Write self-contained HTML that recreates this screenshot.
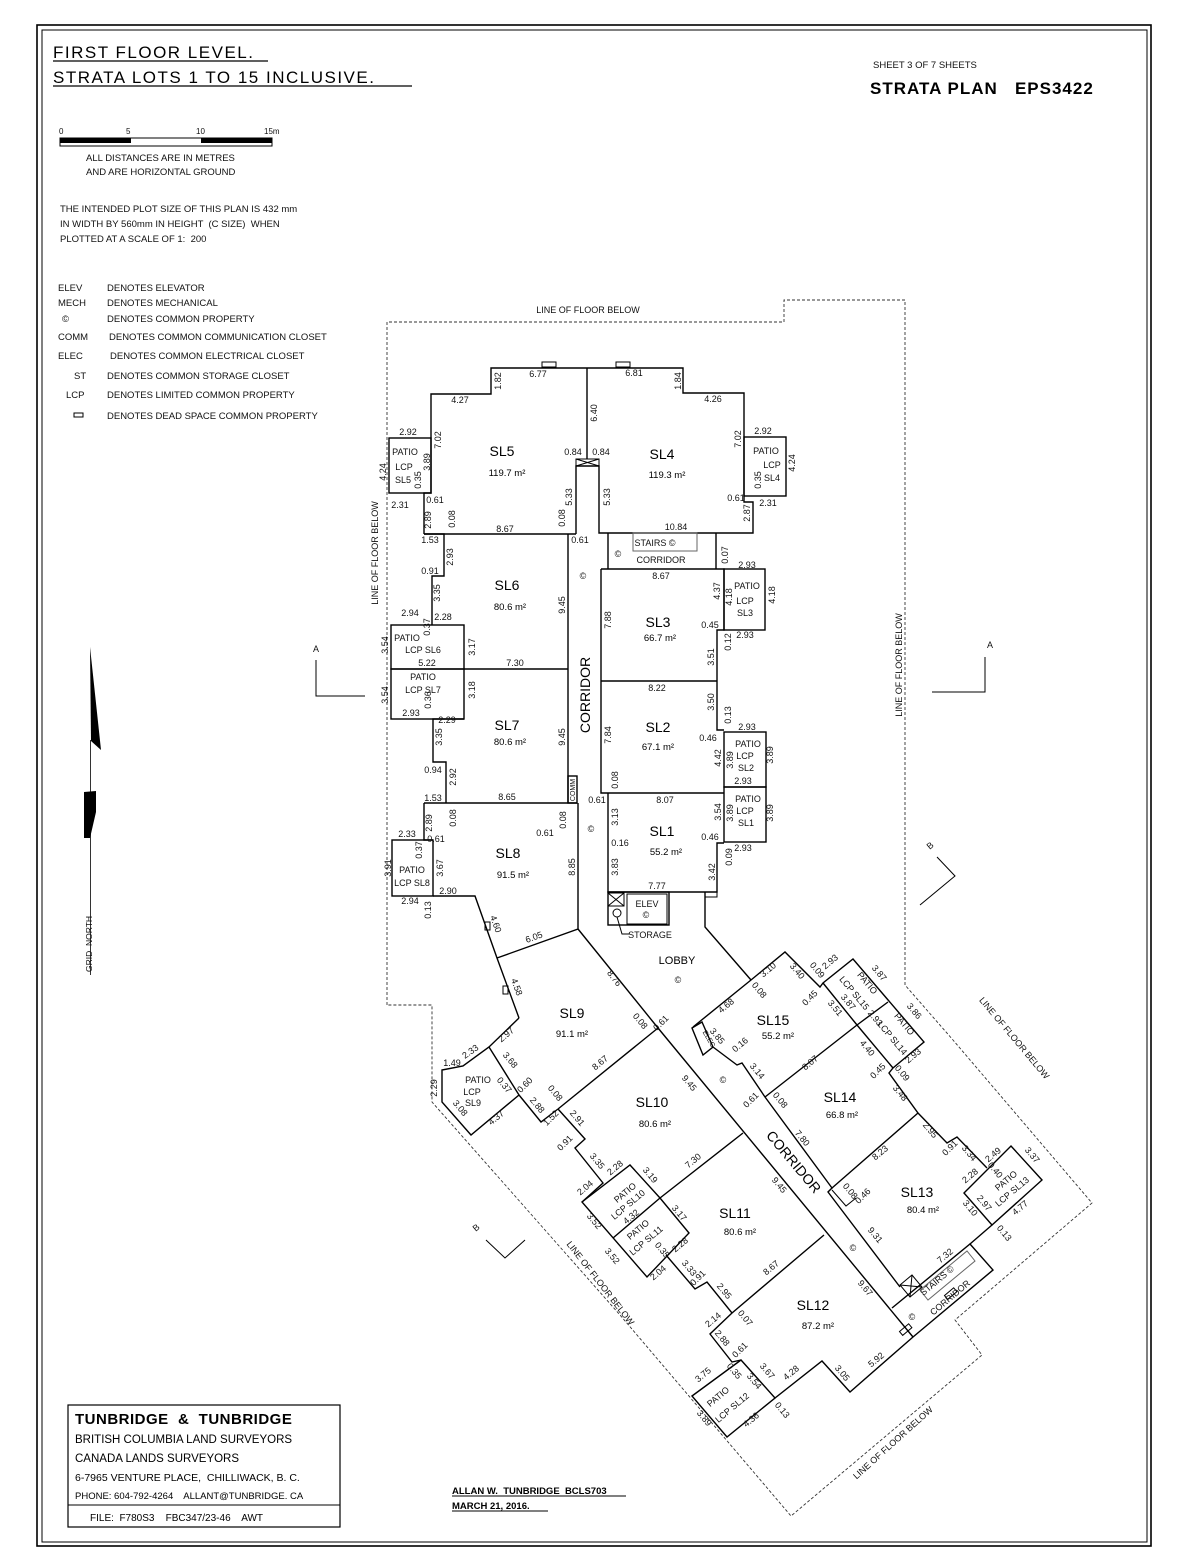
<!DOCTYPE html>
<html><head><meta charset="utf-8">
<style>
html,body{margin:0;padding:0;background:#fff;}
svg{display:block;font-family:"Liberation Sans",sans-serif;}
svg text{white-space:pre;}
.w{fill:none;stroke:#000;stroke-width:1.4;}
.t{fill:none;stroke:#000;stroke-width:1;}
.d{fill:none;stroke:#333;stroke-width:0.9;stroke-dasharray:3,2;}
.s{font-size:9px;fill:#111;text-anchor:middle;}
.L{font-size:14px;fill:#000;text-anchor:middle;}
.A{font-size:9.5px;fill:#000;text-anchor:middle;}
.g{font-size:9.5px;fill:#111;}
</style></head><body>
<svg width="1188" height="1568" viewBox="0 0 1188 1568" xmlns="http://www.w3.org/2000/svg">
<rect x="0" y="0" width="1188" height="1568" fill="#fff"/>
<rect x="37" y="25" width="1114" height="1521" fill="none" stroke="#000" stroke-width="1.6"/>
<rect x="42" y="30" width="1105" height="1512" fill="none" stroke="#000" stroke-width="1"/>

<!-- Titles -->
<text x="53" y="58" style="font-size:17px;letter-spacing:1.5px">FIRST FLOOR LEVEL.</text>
<line x1="53" y1="61" x2="268" y2="61" stroke="#000" stroke-width="1.3"/>
<text x="53" y="83" style="font-size:17px;letter-spacing:1.5px">STRATA LOTS 1 TO 15 INCLUSIVE.</text>
<line x1="53" y1="86" x2="412" y2="86" stroke="#000" stroke-width="1.3"/>
<text x="873" y="68" class="g">SHEET 3 OF 7 SHEETS</text>
<text x="870" y="94" style="font-size:17px;font-weight:bold;letter-spacing:1px">STRATA PLAN   EPS3422</text>

<!-- scale -->
<text x="59" y="134" class="g" style="font-size:8px">0</text>
<text x="126" y="134" class="g" style="font-size:8px">5</text>
<text x="196" y="134" class="g" style="font-size:8px">10</text>
<text x="264" y="134" class="g" style="font-size:8px">15m</text>
<rect x="60" y="138" width="212" height="8" fill="#fff" stroke="#000"/>
<rect x="60" y="138" width="71" height="5" fill="#000"/>
<rect x="201" y="138" width="71" height="5" fill="#000"/>
<text x="86" y="161" class="g">ALL DISTANCES ARE IN METRES</text>
<text x="86" y="175" class="g">AND ARE HORIZONTAL GROUND</text>
<text x="60" y="212" class="g">THE INTENDED PLOT SIZE OF THIS PLAN IS 432 mm</text>
<text x="60" y="227" class="g">IN WIDTH BY 560mm IN HEIGHT  (C SIZE)  WHEN</text>
<text x="60" y="242" class="g">PLOTTED AT A SCALE OF 1:  200</text>

<!-- legend -->
<g class="g">
<text x="58" y="291">ELEV</text><text x="107" y="291">DENOTES ELEVATOR</text>
<text x="58" y="306">MECH</text><text x="107" y="306">DENOTES MECHANICAL</text>
<text x="62" y="322">©</text><text x="107" y="322">DENOTES COMMON PROPERTY</text>
<text x="58" y="340">COMM</text><text x="109" y="340">DENOTES COMMON COMMUNICATION CLOSET</text>
<text x="58" y="359">ELEC</text><text x="110" y="359">DENOTES COMMON ELECTRICAL CLOSET</text>
<text x="74" y="379">ST</text><text x="107" y="379">DENOTES COMMON STORAGE CLOSET</text>
<text x="66" y="398">LCP</text><text x="107" y="398">DENOTES LIMITED COMMON PROPERTY</text>
<text x="107" y="419">DENOTES DEAD SPACE COMMON PROPERTY</text>
</g>
<rect x="74" y="413" width="9" height="4" fill="none" stroke="#000"/>

<!-- north arrow -->
<polygon points="90,647 101,750 91,741" fill="#000"/>
<line x1="90.5" y1="740" x2="90.5" y2="975" stroke="#333" stroke-width="1"/>
<polygon points="84,792 96,791 96,812 90,838 84,838 84,815" fill="#000"/>
<text transform="translate(92,972) rotate(-90)" class="g" style="font-size:8.5px">GRID  NORTH</text>

<!-- Line of floor below (dashed) -->
<path class="d" d="M387,1005 V322 H784 V300 H905 V985 L953,1040 L1092,1203 L955,1320 L982,1355 L791,1516 L620,1315 L432,1102 V1005 Z"/>
<text x="588" y="313" class="s">LINE OF FLOOR BELOW</text>
<text transform="translate(378,553) rotate(-90)" class="s">LINE OF FLOOR BELOW</text>
<text transform="translate(902,665) rotate(-90)" class="s">LINE OF FLOOR BELOW</text>
<text transform="translate(1012,1040) rotate(50)" class="s">LINE OF FLOOR BELOW</text>
<text transform="translate(598,1285) rotate(52)" class="s">LINE OF FLOOR BELOW</text>
<text transform="translate(895,1445) rotate(-42)" class="s">LINE OF FLOOR BELOW</text>

<!-- section markers -->
<text x="316" y="652" class="s">A</text>
<path class="t" d="M316,660 V696 H365"/>
<text x="990" y="648" class="s">A</text>
<path class="t" d="M985,657 V692 H932"/>
<text transform="translate(932,848) rotate(-40)" class="s">B</text>
<path class="t" d="M937,857 L955,876 L920,905"/>
<text transform="translate(478,1230) rotate(-40)" class="s">B</text>
<path class="t" d="M486,1240 L505,1258 L525,1240"/>

<!-- ===== Building upper ===== -->
<path class="w" d="M424,534 V493 H431 V394 H491 V368 H683 V393 H744 V502 H753 V533 H599 V466 H576 V534"/>
<path class="w" d="M587,368 V459"/>
<rect x="576" y="459" width="23" height="7" class="t"/>
<path class="t" d="M576,459 L599,466 M599,459 L576,466"/>
<rect x="542" y="362" width="14" height="5" class="t"/>
<rect x="616" y="362" width="14" height="5" class="t"/>
<rect x="389" y="438" width="42" height="55" class="w"/>
<rect x="744" y="437" width="42" height="59" class="w"/>
<path class="w" d="M424,534 H576 M608,533 V569 M716,533 V569"/>
<rect x="633" y="533" width="64" height="18" fill="none" stroke="#666" stroke-width="1"/>
<path class="w" d="M424,534 H444 V576 H432 V625"/>
<rect x="391" y="625" width="73" height="44" class="w"/>
<rect x="391" y="669" width="73" height="50" class="w"/>
<path class="w" d="M464,669 H568 M568,534 V803"/>
<rect x="568" y="776" width="9" height="27" class="w"/>
<path class="w" d="M464,719 H433 V762 H446 V803 M424,803 H577 M424,803 V840 H433"/>
<rect x="392" y="840" width="41" height="56" class="w"/>
<path class="w" d="M433,896 H475 L497,958 L519,1018 M497,958 L578,929 V803"/>
<!-- right column -->
<path class="w" d="M601,569 H717 M601,569 V793 H608 V892 H717 V843 H724 M717,569 H724 V630 H717 V730 H724 M601,681 H717 M608,793 H724"/>
<rect x="724" y="569" width="41" height="61" class="w"/>
<rect x="724" y="732" width="42" height="55" class="w"/>
<rect x="724" y="787" width="42" height="55" class="w"/>
<rect x="608" y="892" width="61" height="33" class="w"/>
<rect x="627" y="894" width="40" height="30" class="t"/>
<path class="t" d="M608,893 H624 V906 H608 Z M608,893 L624,906 M624,893 L608,906"/>
<circle cx="617" cy="913" r="4" class="t"/>
<path class="t" d="M617,917 L622,934 H630"/>
<path class="w" d="M705,892 V927 L751,980"/>
<rect x="705" y="892" width="12" height="5" class="t"/>

<!-- ===== Diagonal wing ===== -->
<path class="w" d="M578,929 L658,1028 L913,1337"/>
<path class="w" d="M658,1028 L558,1109"/>
<path class="w" d="M519,1018 L489,1047 L463,1066 L442,1070 L442,1102 L471,1135 L519,1095 L489,1047 M519,1095 L541,1122 L558,1109"/>
<path class="w" d="M558,1109 L585,1139 L575,1148 L603,1183 L582,1202"/>
<polygon class="w" points="582,1202 630,1165 660,1198 689,1233 647,1277"/>
<path class="w" d="M660,1198 L613,1238 M660,1198 L743,1133"/>
<path class="w" d="M666,1255 L695,1289 L707,1282 L732,1313 L824,1235 M732,1313 L710,1334 L732,1362 L741,1360"/>
<polygon class="w" points="692,1396 741,1360 775,1398 727,1437"/>
<path class="w" d="M775,1398 L822,1361 L850,1392 L913,1337 L993,1270 L970,1244 L892,1308"/>
<rect x="900" y="1327" width="12" height="5" transform="rotate(-40 906 1330)" class="t"/>
<rect x="945" y="1291" width="12" height="5" transform="rotate(-40 951 1294)" class="t"/>
<rect x="485" y="922" width="5" height="8" class="t"/>
<rect x="503" y="986" width="5" height="8" class="t"/>
<!-- east side -->
<polygon class="w" points="692,1028 702,1022 713,1047 703,1055"/>
<path class="w" d="M693,1027 L751,980 L785,952 L820,987 L823,983 L853,959 L924,1042 L893,1068 L889,1073 L918,1113 L947,1143 L957,1137 L987,1168"/>
<path class="w" d="M713,1047 L737,1065 L742,1063 L765,1097 L832,1188 L828,1192 L900,1287"/>
<path class="w" d="M823,983 L857,1025 L893,1068 M857,1025 L888,1002 M765,1097 L857,1025 M832,1188 L918,1113"/>
<polygon class="w" points="964,1193 1011,1146 1042,1180 992,1225"/>
<path class="w" d="M992,1225 L970,1244"/>
<path class="t" d="M832,1190 L846,1206 L856,1198"/>
<polygon points="900,1285 912,1275 922,1287 910,1297" fill="none" stroke="#000"/>
<path class="t" d="M900,1285 L922,1287 M912,1275 L910,1297"/>
<polygon points="920,1290 967,1251 975,1261 928,1300" fill="none" stroke="#666"/>

<!-- ===== Labels ===== -->
<g class="L">
<text x="502" y="456">SL5</text><text x="662" y="459">SL4</text>
<text x="507" y="590">SL6</text><text x="658" y="627">SL3</text>
<text x="507" y="730">SL7</text><text x="658" y="732">SL2</text>
<text x="508" y="858">SL8</text><text x="662" y="836">SL1</text>
<text x="572" y="1018">SL9</text><text x="652" y="1107">SL10</text>
<text x="735" y="1218">SL11</text><text x="813" y="1310">SL12</text>
<text x="917" y="1197">SL13</text><text x="840" y="1102">SL14</text>
<text x="773" y="1025">SL15</text>
<text transform="translate(590,695) rotate(-90)">CORRIDOR</text>
<text transform="translate(790,1165) rotate(50)">CORRIDOR</text>
<text x="677" y="964" style="font-size:11px">LOBBY</text>
</g>
<g class="A">
<text x="507" y="476">119.7 m²</text><text x="667" y="478">119.3 m²</text>
<text x="510" y="610">80.6 m²</text><text x="660" y="641">66.7 m²</text>
<text x="510" y="745">80.6 m²</text><text x="658" y="750">67.1 m²</text>
<text x="513" y="878">91.5 m²</text><text x="666" y="855">55.2 m²</text>
<text x="572" y="1037">91.1 m²</text><text x="655" y="1127">80.6 m²</text>
<text x="740" y="1235">80.6 m²</text><text x="818" y="1329">87.2 m²</text>
<text x="923" y="1213">80.4 m²</text><text x="842" y="1118">66.8 m²</text>
<text x="778" y="1039">55.2 m²</text>
</g>
<g class="s">
<text x="405" y="455">PATIO</text><text x="404" y="470">LCP</text><text x="403" y="483">SL5</text>
<text x="766" y="454">PATIO</text><text x="772" y="468">LCP</text><text x="772" y="481">SL4</text>
<text x="655" y="546">STAIRS ©</text><text x="661" y="563">CORRIDOR</text>
<text x="618" y="557">©</text><text x="583" y="579">©</text><text x="591" y="832">©</text>
<text x="747" y="589">PATIO</text><text x="745" y="604">LCP</text><text x="745" y="616">SL3</text>
<text x="407" y="641">PATIO</text><text x="423" y="653">LCP SL6</text>
<text x="423" y="680">PATIO</text><text x="423" y="693">LCP SL7</text>
<text x="748" y="747">PATIO</text><text x="745" y="759">LCP</text><text x="746" y="771">SL2</text>
<text x="748" y="802">PATIO</text><text x="745" y="814">LCP</text><text x="746" y="826">SL1</text>
<text x="412" y="873">PATIO</text><text x="412" y="886">LCP SL8</text>
<text x="647" y="907">ELEV</text><text x="646" y="918">©</text>
<text x="650" y="938">STORAGE</text>
<text x="678" y="983">©</text>
<text x="478" y="1083">PATIO</text><text x="472" y="1095">LCP</text><text x="473" y="1106">SL9</text>
<text x="723" y="1083">©</text><text x="853" y="1251">©</text><text x="912" y="1320">©</text>
<text x="538" y="377">6.77</text><text x="634" y="376">6.81</text>
<text x="460" y="403">4.27</text><text x="713" y="402">4.26</text>
<text x="408" y="435">2.92</text><text x="763" y="434">2.92</text>
<text x="573" y="455">0.84</text><text x="601" y="455">0.84</text>
<text x="400" y="508">2.31</text><text x="435" y="503">0.61</text>
<text x="736" y="501">0.61</text><text x="768" y="506">2.31</text>
<text x="505" y="532">8.67</text><text x="676" y="530">10.84</text>
<text x="430" y="543">1.53</text><text x="580" y="543">0.61</text>
<text x="747" y="568">2.93</text><text x="430" y="574">0.91</text>
<text x="661" y="579">8.67</text>
<text x="410" y="616">2.94</text><text x="443" y="620">2.28</text>
<text x="710" y="628">0.45</text><text x="745" y="638">2.93</text>
<text x="427" y="666">5.22</text><text x="515" y="666">7.30</text>
<text x="657" y="691">8.22</text>
<text x="411" y="716">2.93</text><text x="447" y="723">2.29</text>
<text x="747" y="730">2.93</text><text x="708" y="741">0.46</text>
<text x="433" y="773">0.94</text><text x="743" y="784">2.93</text>
<text x="507" y="800">8.65</text><text x="433" y="801">1.53</text>
<text x="597" y="803">0.61</text><text x="665" y="803">8.07</text>
<text x="545" y="836">0.61</text><text x="407" y="837">2.33</text>
<text x="436" y="842">0.61</text><text x="620" y="846">0.16</text>
<text x="710" y="840">0.46</text><text x="743" y="851">2.93</text>
<text x="448" y="894">2.90</text><text x="410" y="904">2.94</text>
<text x="657" y="889">7.77</text>
<text x="452" y="1066">1.49</text>
</g>
<g class="s">
<text transform="translate(501,381) rotate(-90)">1.82</text>
<text transform="translate(681,381) rotate(-90)">1.84</text>
<text transform="translate(597,413) rotate(-90)">6.40</text>
<text transform="translate(441,440) rotate(-90)">7.02</text>
<text transform="translate(741,439) rotate(-90)">7.02</text>
<text transform="translate(430,462) rotate(-90)">3.89</text>
<text transform="translate(421,480) rotate(-90)">0.35</text>
<text transform="translate(386,472) rotate(-90)">4.24</text>
<text transform="translate(761,480) rotate(-90)">0.35</text>
<text transform="translate(795,463) rotate(-90)">4.24</text>
<text transform="translate(572,497) rotate(-90)">5.33</text>
<text transform="translate(610,497) rotate(-90)">5.33</text>
<text transform="translate(431,520) rotate(-90)">2.89</text>
<text transform="translate(455,519) rotate(-90)">0.08</text>
<text transform="translate(565,518) rotate(-90)">0.08</text>
<text transform="translate(750,513) rotate(-90)">2.87</text>
<text transform="translate(453,557) rotate(-90)">2.93</text>
<text transform="translate(728,555) rotate(-90)">0.07</text>
<text transform="translate(440,593) rotate(-90)">3.35</text>
<text transform="translate(565,605) rotate(-90)">9.45</text>
<text transform="translate(720,591) rotate(-90)">4.37</text>
<text transform="translate(732,597) rotate(-90)">4.18</text>
<text transform="translate(775,595) rotate(-90)">4.18</text>
<text transform="translate(611,620) rotate(-90)">7.88</text>
<text transform="translate(430,627) rotate(-90)">0.37</text>
<text transform="translate(388,645) rotate(-90)">3.54</text>
<text transform="translate(475,647) rotate(-90)">3.17</text>
<text transform="translate(731,642) rotate(-90)">0.12</text>
<text transform="translate(714,657) rotate(-90)">3.51</text>
<text transform="translate(388,695) rotate(-90)">3.54</text>
<text transform="translate(475,690) rotate(-90)">3.18</text>
<text transform="translate(431,700) rotate(-90)">0.36</text>
<text transform="translate(714,702) rotate(-90)">3.50</text>
<text transform="translate(731,715) rotate(-90)">0.13</text>
<text transform="translate(442,737) rotate(-90)">3.35</text>
<text transform="translate(565,737) rotate(-90)">9.45</text>
<text transform="translate(611,735) rotate(-90)">7.84</text>
<text transform="translate(733,760) rotate(-90)">3.89</text>
<text transform="translate(721,758) rotate(-90)">4.42</text>
<text transform="translate(773,755) rotate(-90)">3.89</text>
<text transform="translate(456,777) rotate(-90)">2.92</text>
<text transform="translate(575,790) rotate(-90)" style="font-size:7px">COMM</text>
<text transform="translate(618,780) rotate(-90)">0.08</text>
<text transform="translate(721,812) rotate(-90)">3.54</text>
<text transform="translate(733,813) rotate(-90)">3.89</text>
<text transform="translate(773,813) rotate(-90)">3.89</text>
<text transform="translate(432,823) rotate(-90)">2.89</text>
<text transform="translate(456,818) rotate(-90)">0.08</text>
<text transform="translate(566,820) rotate(-90)">0.08</text>
<text transform="translate(618,817) rotate(-90)">3.13</text>
<text transform="translate(732,857) rotate(-90)">0.09</text>
<text transform="translate(422,850) rotate(-90)">0.37</text>
<text transform="translate(391,868) rotate(-90)">3.91</text>
<text transform="translate(443,868) rotate(-90)">3.67</text>
<text transform="translate(575,867) rotate(-90)">8.85</text>
<text transform="translate(618,867) rotate(-90)">3.83</text>
<text transform="translate(715,872) rotate(-90)">3.42</text>
<text transform="translate(431,910) rotate(-90)">0.13</text>
<text transform="translate(437,1088) rotate(-90)">2.29</text>
</g>
<g class="s">
<text transform="translate(493,925) rotate(70)">4.60</text>
<text transform="translate(535,940) rotate(-20)">6.05</text>
<text transform="translate(612,980) rotate(52)">8.76</text>
<text transform="translate(514,988) rotate(70)">4.58</text>
<text transform="translate(638,1023) rotate(50)">0.08</text>
<text transform="translate(663,1025) rotate(-45)">0.61</text>
<text transform="translate(508,1037) rotate(-40)">2.97</text>
<text transform="translate(472,1054) rotate(-35)">2.33</text>
<text transform="translate(508,1062) rotate(50)">3.68</text>
<text transform="translate(602,1065) rotate(-40)">8.67</text>
<text transform="translate(502,1087) rotate(50)">0.37</text>
<text transform="translate(527,1087) rotate(-45)">0.60</text>
<text transform="translate(687,1085) rotate(50)">9.45</text>
<text transform="translate(553,1095) rotate(50)">0.08</text>
<text transform="translate(535,1107) rotate(50)">2.88</text>
<text transform="translate(458,1110) rotate(50)">3.08</text>
<text transform="translate(498,1120) rotate(-40)">4.37</text>
<text transform="translate(553,1120) rotate(-45)">1.52</text>
<text transform="translate(575,1120) rotate(50)">2.91</text>
<text transform="translate(567,1145) rotate(-45)">0.91</text>
<text transform="translate(595,1163) rotate(50)">3.35</text>
<text transform="translate(695,1163) rotate(-40)">7.30</text>
<text transform="translate(617,1170) rotate(-40)">2.28</text>
<text transform="translate(648,1177) rotate(50)">3.19</text>
<text transform="translate(587,1190) rotate(-40)">2.04</text>
<text transform="translate(627,1195) rotate(-40)">PATIO</text>
<text transform="translate(630,1207) rotate(-40)">LCP SL10</text>
<text transform="translate(633,1219) rotate(-40)">4.32</text>
<text transform="translate(677,1215) rotate(50)">3.17</text>
<text transform="translate(592,1223) rotate(50)">3.52</text>
<text transform="translate(640,1232) rotate(-40)">PATIO</text>
<text transform="translate(648,1243) rotate(-40)">LCP SL11</text>
<text transform="translate(610,1258) rotate(50)">3.52</text>
<text transform="translate(660,1252) rotate(50)">0.35</text>
<text transform="translate(682,1247) rotate(-40)">2.28</text>
<text transform="translate(687,1270) rotate(50)">3.33</text>
<text transform="translate(660,1275) rotate(-40)">2.04</text>
<text transform="translate(700,1280) rotate(-45)">0.91</text>
<text transform="translate(722,1293) rotate(50)">2.95</text>
<text transform="translate(773,1270) rotate(-40)">8.67</text>
<text transform="translate(715,1322) rotate(-40)">2.14</text>
<text transform="translate(743,1320) rotate(50)">0.07</text>
<text transform="translate(720,1340) rotate(50)">2.88</text>
<text transform="translate(742,1352) rotate(-45)">0.61</text>
<text transform="translate(705,1377) rotate(-40)">3.75</text>
<text transform="translate(732,1373) rotate(50)">0.35</text>
<text transform="translate(752,1383) rotate(50)">3.54</text>
<text transform="translate(765,1373) rotate(50)">3.67</text>
<text transform="translate(720,1399) rotate(-40)">PATIO</text>
<text transform="translate(734,1410) rotate(-40)">LCP SL12</text>
<text transform="translate(793,1375) rotate(-40)">4.28</text>
<text transform="translate(840,1375) rotate(50)">3.05</text>
<text transform="translate(878,1362) rotate(-40)">5.92</text>
<text transform="translate(702,1420) rotate(50)">3.89</text>
<text transform="translate(753,1422) rotate(-40)">4.36</text>
<text transform="translate(780,1412) rotate(50)">0.13</text>
<text transform="translate(863,1290) rotate(50)">9.67</text>
<text transform="translate(777,1187) rotate(50)">9.45</text>
<text transform="translate(800,1140) rotate(50)">7.80</text>
<text transform="translate(873,1237) rotate(50)">9.31</text>
<text transform="translate(882,1155) rotate(-40)">8.23</text>
<text transform="translate(928,1132) rotate(50)">2.95</text>
<text transform="translate(952,1150) rotate(-45)">0.91</text>
<text transform="translate(967,1155) rotate(50)">3.34</text>
<text transform="translate(995,1157) rotate(-40)">2.49</text>
<text transform="translate(1030,1157) rotate(50)">3.37</text>
<text transform="translate(972,1178) rotate(-40)">2.28</text>
<text transform="translate(993,1172) rotate(50)">0.40</text>
<text transform="translate(1008,1183) rotate(-40)">PATIO</text>
<text transform="translate(1014,1194) rotate(-40)">LCP SL13</text>
<text transform="translate(848,1193) rotate(50)">0.08</text>
<text transform="translate(865,1198) rotate(-45)">0.46</text>
<text transform="translate(968,1210) rotate(50)">3.10</text>
<text transform="translate(982,1205) rotate(50)">2.97</text>
<text transform="translate(1022,1210) rotate(-40)">4.77</text>
<text transform="translate(1002,1235) rotate(50)">0.13</text>
<text transform="translate(947,1258) rotate(-40)">7.32</text>
<text transform="translate(939,1283) rotate(-40)">STAIRS ©</text>
<text transform="translate(952,1300) rotate(-40)">CORRIDOR</text>
<text transform="translate(707,1040) rotate(60)" style="font-size:7px">ELEC</text>
<text transform="translate(728,1008) rotate(-40)">4.68</text>
<text transform="translate(757,992) rotate(50)">0.08</text>
<text transform="translate(770,972) rotate(-40)">3.10</text>
<text transform="translate(795,973) rotate(50)">3.40</text>
<text transform="translate(815,972) rotate(50)">0.09</text>
<text transform="translate(832,964) rotate(-40)">2.93</text>
<text transform="translate(865,985) rotate(50)">PATIO</text>
<text transform="translate(852,995) rotate(50)">LCP SL15</text>
<text transform="translate(877,975) rotate(50)">3.87</text>
<text transform="translate(812,1000) rotate(-45)">0.45</text>
<text transform="translate(833,1010) rotate(50)">3.51</text>
<text transform="translate(846,1004) rotate(50)">3.87</text>
<text transform="translate(873,1020) rotate(50)">2.93</text>
<text transform="translate(902,1026) rotate(50)">PATIO</text>
<text transform="translate(890,1040) rotate(50)">LCP SL14</text>
<text transform="translate(912,1013) rotate(50)">3.86</text>
<text transform="translate(865,1050) rotate(50)">4.40</text>
<text transform="translate(812,1065) rotate(-40)">8.07</text>
<text transform="translate(880,1073) rotate(-45)">0.45</text>
<text transform="translate(915,1058) rotate(-40)">2.93</text>
<text transform="translate(900,1075) rotate(50)">0.09</text>
<text transform="translate(898,1095) rotate(50)">3.48</text>
<text transform="translate(778,1102) rotate(50)">0.08</text>
<text transform="translate(715,1038) rotate(50)">3.85</text>
<text transform="translate(742,1047) rotate(-40)">0.16</text>
<text transform="translate(755,1073) rotate(50)">3.14</text>
<text transform="translate(753,1102) rotate(-45)">0.61</text>
</g>

<!-- title block -->
<rect x="68" y="1405" width="272" height="122" fill="none" stroke="#000" stroke-width="1.2"/>
<line x1="68" y1="1505" x2="340" y2="1505" stroke="#000" stroke-width="1"/>
<text x="75" y="1424" style="font-size:15px;font-weight:bold;letter-spacing:0.5px">TUNBRIDGE  &amp;  TUNBRIDGE</text>
<text x="75" y="1443" style="font-size:11.5px">BRITISH COLUMBIA LAND SURVEYORS</text>
<text x="75" y="1462" style="font-size:11.5px">CANADA LANDS SURVEYORS</text>
<text x="75" y="1481" style="font-size:10.5px">6-7965 VENTURE PLACE,  CHILLIWACK, B. C.</text>
<text x="75" y="1499" style="font-size:9.5px">PHONE: 604-792-4264    ALLANT@TUNBRIDGE. CA</text>
<text x="90" y="1521" style="font-size:10px">FILE:  F780S3    FBC347/23-46    AWT</text>
<text x="452" y="1494" style="font-size:9.5px;font-weight:bold">ALLAN W.  TUNBRIDGE  BCLS703</text>
<line x1="452" y1="1496" x2="626" y2="1496" stroke="#000"/>
<text x="452" y="1509" style="font-size:9.5px;font-weight:bold">MARCH 21, 2016.</text>
<line x1="452" y1="1511" x2="548" y2="1511" stroke="#000"/>
</svg>
</body></html>
